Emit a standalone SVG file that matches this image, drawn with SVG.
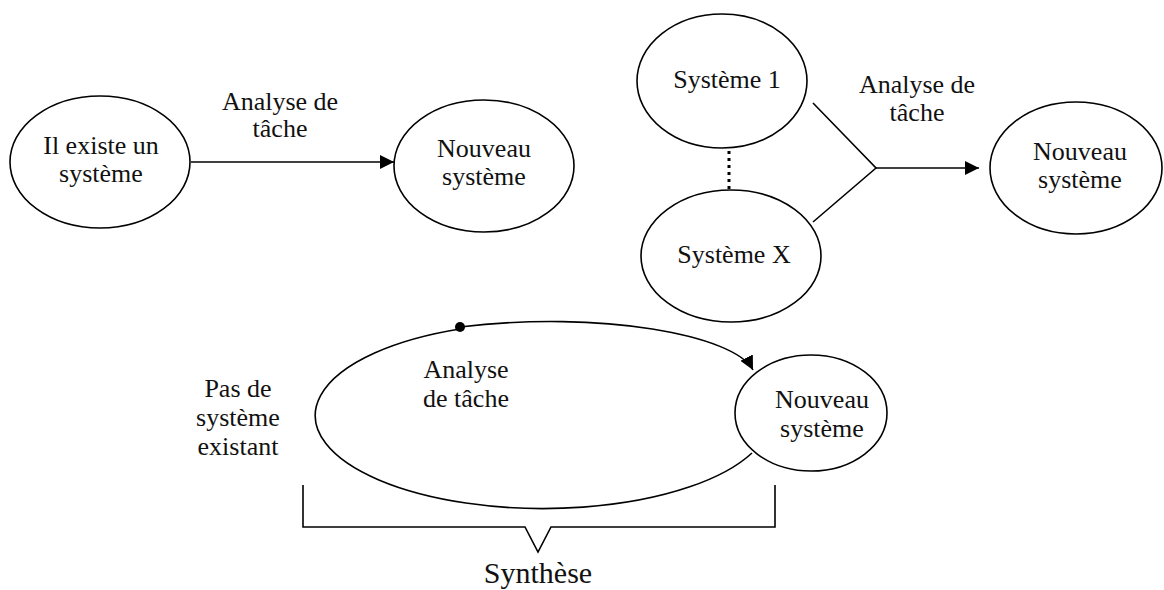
<svg xmlns="http://www.w3.org/2000/svg" width="1164" height="590" viewBox="0 0 1164 590">
<style>
.n{fill:#fff;stroke:#000;stroke-width:1.6}
.t{font-family:'Liberation Serif','Times New Roman','DejaVu Serif',serif;font-size:26px;fill:#111;text-anchor:middle}
.c{fill:none;stroke:#000;stroke-width:1.6}
</style>
<defs>
<marker id="ah2" viewBox="0 0 10 10" refX="10" refY="5" markerWidth="14" markerHeight="14" markerUnits="userSpaceOnUse" orient="auto">
<path d="M0,0 L10,5 L0,10 z" fill="#000"/>
</marker>
</defs>
<rect width="1164" height="590" fill="#fff"/>
<g id="connectors">
<line class="c" x1="191" y1="162" x2="394" y2="162" marker-end="url(#ah2)"/>
<text class="t" x="280" y="110">Analyse de</text>
<text class="t" x="280" y="137">tâche</text>
<line x1="729" y1="151" x2="729" y2="190" stroke="#000" stroke-width="3" stroke-dasharray="3,4"/>
<polyline class="c" points="813,103 876,168 813,222"/>
<line class="c" x1="876" y1="168" x2="979" y2="168" marker-end="url(#ah2)"/>
<text class="t" x="917" y="93">Analyse de</text>
<text class="t" x="917" y="121">tâche</text>
<path class="c" d="M460,327 C600,310 735,335 753,370" marker-end="url(#ah2)"/>
<path class="c" d="M460,329 A228 93 0 1 0 752,453"/>
<circle cx="460" cy="327" r="5" fill="#000"/>
<text class="t" x="466" y="378">Analyse</text>
<text class="t" x="466" y="407">de tâche</text>
<polyline class="c" points="303,485 303,527 525,527 538,552 551,527 775,527 775,485"/>
</g>
<g id="n1"><ellipse class="n" cx="100" cy="162" rx="90" ry="66"/><text class="t" x="101" y="154">Il existe un</text><text class="t" x="101" y="182">système</text></g>
<g id="n2"><ellipse class="n" cx="484" cy="166" rx="90" ry="66"/><text class="t" x="484" y="157">Nouveau</text><text class="t" x="484" y="185">système</text></g>
<g id="n3"><ellipse class="n" cx="722" cy="81" rx="85" ry="67"/><text class="t" x="727" y="88">Système 1</text></g>
<g id="n4"><ellipse class="n" cx="731" cy="256" rx="90" ry="66"/><text class="t" x="734" y="263">Système X</text></g>
<g id="n5"><ellipse class="n" cx="1076" cy="168" rx="86" ry="66"/><text class="t" x="1080" y="160">Nouveau</text><text class="t" x="1080" y="188">système</text></g>
<g id="n6"><ellipse class="n" cx="811" cy="413" rx="76" ry="58"/><text class="t" x="822" y="408">Nouveau</text><text class="t" x="822" y="437">système</text></g>
<g id="n7"><text class="t" x="238" y="397">Pas de</text><text class="t" x="238" y="426">système</text><text class="t" x="238" y="455">existant</text></g>
<g id="n8"><text class="t" x="538" y="583" style="font-size:30px">Synthèse</text></g>
</svg>
